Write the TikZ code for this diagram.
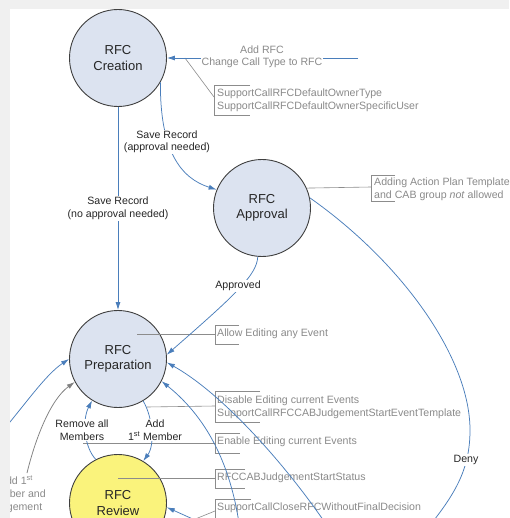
\documentclass[tikz,border=0pt]{standalone}
\usepackage{fontspec}
\setmainfont{Liberation Sans}
\usetikzlibrary{arrows.meta}
\definecolor{arr}{HTML}{4A7EBB}
\definecolor{gline}{HTML}{8C8C8C}
\definecolor{gtext}{HTML}{8A8A8A}
\definecolor{cfill}{HTML}{DCE3F0}
\definecolor{cdraw}{HTML}{3F3F3F}
\definecolor{yfill}{HTML}{FAF37C}
\definecolor{framegray}{HTML}{F0F0F0}
\begin{document}
\begin{tikzpicture}[x=1pt,y=-1pt,
 state/.style={circle, draw=cdraw, line width=0.9pt, fill=cfill, minimum size=97pt, inner sep=0pt, align=center, font=\fontsize{13}{15.5}\selectfont, text=black!85},
 flow/.style={draw=arr, line width=0.75pt, -{Latex[length=8pt,width=5pt]}},
 gflow/.style={draw=gray, line width=0.75pt, -{Latex[length=8pt,width=5pt]}},
 lbl/.style={fill=white, inner sep=1pt, align=center, text=black!85, font=\fontsize{10.6}{12.5}\selectfont},
 note/.style={anchor=west, align=left, inner sep=0pt, text=gtext, font=\fontsize{10.6}{13}\selectfont},
 noteline/.style={draw=gline, line width=0.6pt},
]
\useasboundingbox (0,0) rectangle (509,518);
\fill[framegray] (0,0) rectangle (509,518);
\fill[white] (10,9) rectangle (509,518);
\begin{scope}
\clip (10,9) rectangle (509,518);
% states
\node[state] (cre) at (118,58) {RFC\\Creation};
\node[state] (app) at (262,208) {RFC\\Approval};
\node[state] (prep) at (118,359) {RFC\\Preparation};
\node[state, fill=yfill] (rev) at (118,503) {RFC\\Review};

% free ends
\coordinate (addR) at (358,58);
\coordinate (c1) at (185,58);
\coordinate (b1) at (214,97);
\coordinate (b2) at (371,187);
\coordinate (c3) at (137,334);
\coordinate (b3) at (215,334);
\coordinate (c4) at (147,407);
\coordinate (b4) at (215,406);
\coordinate (c5) at (83,443);
\coordinate (b5) at (215,443);
\coordinate (c6) at (118,478);
\coordinate (b6) at (215,478);
\coordinate (b7) at (215,511);
\coordinate (c7) at (183,524);
\coordinate (lb) at (-5,440);
\coordinate (lg) at (27,473);
\coordinate (aEnd) at (330,530);
\coordinate (bEnd) at (240,530);
\coordinate (rEnd) at (206,525);
\coordinate (dEnd) at (418,540);

% annotations
\draw[noteline] (c1) -- (b1);
\draw[noteline] (250,85) -- (214,85) -- (214,115) -- (250,115);
\node[note] (n1) at (217,100) {SupportCallRFCDefaultOwnerType\\SupportCallRFCDefaultOwnerSpecificUser};

\draw[noteline] (app.24) -- (b2);
\draw[noteline] (395,175) -- (371,175) -- (371,201) -- (395,201);
\node[note] (n2) at (374,189) {Adding Action Plan Template\\and CAB group \textit{not} allowed};

\draw[noteline] (c3) -- (b3);
\draw[noteline] (239,325) -- (215,325) -- (215,344) -- (239,344);
\node[note] (n3) at (217,334) {Allow Editing any Event};

\draw[noteline] (c4) -- (b4);
\draw[noteline] (260,391) -- (215,391) -- (215,422) -- (260,422);
\node[note] (n4) at (217,407) {Disable Editing current Events\\SupportCallRFCCABJudgementStartEventTemplate};

\draw[noteline] (c5) -- (b5);
\draw[noteline] (240,433) -- (215,433) -- (215,453) -- (240,453);
\node[note] (n5) at (217,442) {Enable Editing current Events};

\draw[noteline] (c6) -- (b6);
\draw[noteline] (245,469) -- (215,469) -- (215,488) -- (245,488);
\node[note] (n6) at (217,478) {RFCCABJudgementStartStatus};

\draw[noteline] (b7) -- (c7);
\draw[noteline] (251,499) -- (215,499) -- (215,530);
\node[note] (n7) at (217,508) {SupportCallCloseRFCWithoutFinalDecision};

\node[note, anchor=center, align=center] (n8) at (16,494) {Add 1\textsuperscript{st}\\Member and\\Judgement};

% connectors
\draw[flow] (addR) -- (cre);
\node[lbl, text=gtext, inner sep=0.5pt] (l1) at (262,57) {Add RFC\\Change Call Type to RFC};

\draw[flow] (cre.-30) .. controls (160,150) and (180,178) .. (app.158);
\node[lbl] (l2) at (167,142) {Save Record\\(approval needed)};

\draw[flow] (cre) -- node[lbl] (l3) {Save Record\\(no approval needed)} (prep);

\draw[flow] (app.-95) .. controls (257,275) and (235,295) .. (prep.5);
\node[lbl] (l4) at (238,286) {Approved};

\draw[flow] (app.12) .. controls (405,265) and (470,360) .. (470,430) .. controls (470,470) and (455,495) .. (dEnd);
\node[lbl] (l5) at (466,460) {Deny};

\draw[flow] (aEnd) .. controls (290,470) and (225,395) .. (prep.-4);
\draw[flow] (bEnd) .. controls (232,470) and (210,420) .. (prep.-27);
\draw[flow] (rEnd) -- (rev.-5);

\draw[flow] (lb) .. controls (25,405) and (45,375) .. (prep.180);
\draw[gflow] (lg) .. controls (35,440) and (50,400) .. (prep.208);

\draw[flow] (rev.117) .. controls (84,447) and (82,420) .. (prep.238);
\node[lbl] (l6) at (82,430) {Remove all\\Members};

\draw[flow] (prep.-59) .. controls (153,418) and (155,445) .. (rev.59);
\node[lbl] (l7) at (155,430) {Add\\1\textsuperscript{st} Member};
\end{scope}
\end{tikzpicture}
\end{document}
